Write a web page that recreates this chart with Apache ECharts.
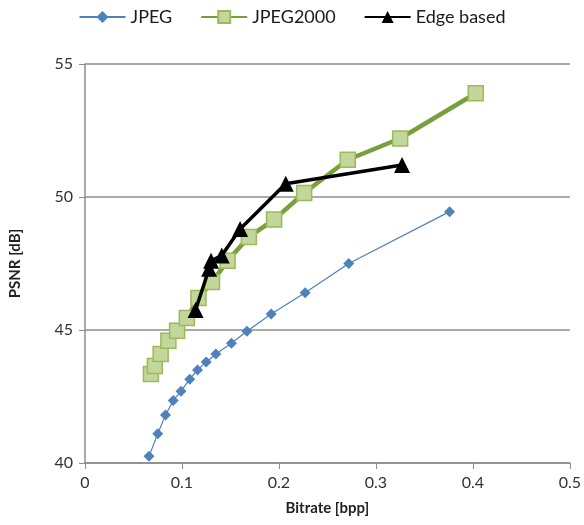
<!DOCTYPE html>
<html><head><meta charset="utf-8">
<script src="https://cdn.jsdelivr.net/npm/echarts@6/dist/echarts.min.js"></script>
<style>html,body{margin:0;padding:0;background:#fff}#c{width:584px;height:525px}</style>
</head><body><div id="c"></div>
<script>
const seriesNames = ['JPEG', 'JPEG2000', 'Edge based'];
const jpegX = [0.066, 0.075, 0.083, 0.091, 0.099, 0.108, 0.116, 0.125, 0.135, 0.151, 0.167, 0.192, 0.227, 0.272, 0.376];
const jpegY = [40.25, 41.1, 41.8, 42.35, 42.7, 43.15, 43.5, 43.8, 44.1, 44.5, 44.95, 45.6, 46.4, 47.5, 49.45];
const j2kX = [0.068, 0.072, 0.078, 0.086, 0.095, 0.105, 0.117, 0.131, 0.147, 0.169, 0.195, 0.226, 0.271, 0.325, 0.403];
const j2kY = [43.35, 43.65, 44.1, 44.6, 44.97, 45.45, 46.2, 46.8, 47.6, 48.5, 49.15, 50.15, 51.4, 52.2, 53.9];
const edgeX = [0.114, 0.128, 0.130, 0.141, 0.160, 0.207, 0.327];
const edgeY = [45.75, 47.3, 47.6, 47.8, 48.8, 50.5, 51.2];
const xTicks = [0, 0.1, 0.2, 0.3, 0.4, 0.5];
const yTicks = [40, 45, 50, 55];

const zip = (a, b) => a.map((v, i) => [v, b[i]]);
const font = 'Lato, "Open Sans", sans-serif';
const chart = echarts.init(document.getElementById('c'));
chart.setOption({
  animation: false,
  textStyle: { fontFamily: font },
  legend: {
    top: 3, left: 'center', itemWidth: 46, itemHeight: 15, itemGap: 28,
    textStyle: { fontSize: 18, color: '#1a1a1a', fontFamily: font },
    data: seriesNames
  },
  grid: { left: 85, right: 14, top: 64, bottom: 62, containLabel: false },
  xAxis: {
    type: 'value', min: 0, max: 0.5, interval: 0.1,
    name: 'Bitrate [bpp]', nameLocation: 'middle', nameGap: 38,
    nameTextStyle: { fontWeight: 'bold', fontSize: 15, color: '#222' },
    axisLine: { lineStyle: { color: '#8c8c8c', width: 1.5 } },
    axisTick: { show: true, length: 6, lineStyle: { color: '#8c8c8c' } },
    axisLabel: { fontSize: 16, color: '#333', margin: 12, formatter: v => xTicks.includes(+v.toFixed(1)) ? String(+v.toFixed(1)) : '' },
    splitLine: { show: false }
  },
  yAxis: {
    type: 'value', min: 40, max: 55, interval: 5,
    name: 'PSNR [dB]', nameLocation: 'middle', nameGap: 62, nameRotate: 90,
    nameTextStyle: { fontWeight: 'bold', fontSize: 15, color: '#222' },
    axisLine: { show: true, lineStyle: { color: '#8c8c8c', width: 1.5 } },
    axisTick: { show: true, length: 6, lineStyle: { color: '#8c8c8c' } },
    axisLabel: { fontSize: 16, color: '#333', margin: 12, formatter: v => yTicks.includes(v) ? String(v) : '' },
    splitLine: { show: true, lineStyle: { color: '#8c8c8c', width: 1.5 } }
  },
  series: [
    {
      name: seriesNames[0], type: 'line', data: zip(jpegX, jpegY),
      symbol: 'diamond', symbolSize: 11,
      lineStyle: { color: '#4F81BD', width: 1.2 },
      itemStyle: { color: '#4F81BD' }, z: 2
    },
    {
      name: seriesNames[1], type: 'line', data: zip(j2kX, j2kY),
      symbol: 'rect', symbolSize: 15,
      lineStyle: { color: '#77A03C', width: 4.5 },
      itemStyle: { color: '#C3D69B', borderColor: '#9BBB59', borderWidth: 1.5 }, z: 3
    },
    {
      name: seriesNames[2], type: 'line', data: zip(edgeX, edgeY),
      symbol: 'triangle', symbolSize: 16,
      lineStyle: { color: '#000', width: 3.5 },
      itemStyle: { color: '#000' }, z: 4
    }
  ]
});
</script></body></html>
